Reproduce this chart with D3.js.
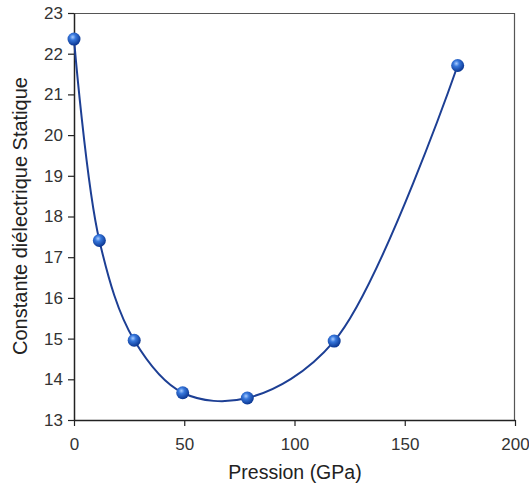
<!DOCTYPE html>
<html><head><meta charset="utf-8">
<script src="https://cdn.jsdelivr.net/npm/d3@7"></script>
<style>
html,body{margin:0;padding:0;background:#fff;}
svg{display:block;font-family:"Liberation Sans",Arial,sans-serif;}
</style></head>
<body><svg id="c" width="529" height="488"></svg>
<script>
const pressure = [0, 11.5, 27.3, 49.3, 78.6, 118.0, 174.0];
const epsilon = [22.36, 17.41, 14.96, 13.67, 13.54, 14.94, 21.71];
const xTicks = [0, 50, 100, 150, 200];
const yTicks = [13, 14, 15, 16, 17, 18, 19, 20, 21, 22, 23];
const xTitle = "Pression (GPa)";
const yTitle = "Constante diélectrique Statique";

const svg = d3.select("#c");
const L = 74, R = 515, T = 13, B = 420;
const x = d3.scaleLinear().domain([0, 200]).range([L, R]);
const y = d3.scaleLinear().domain([13, 23]).range([B, T]);

const defs = svg.append("defs");
const g = defs.append("radialGradient").attr("id", "ball").attr("cx", "40%").attr("cy", "35%").attr("r", "65%");
g.append("stop").attr("offset", "0%").attr("stop-color", "#a8ccff");
g.append("stop").attr("offset", "35%").attr("stop-color", "#3777dc");
g.append("stop").attr("offset", "100%").attr("stop-color", "#0a3590");

// frame
svg.append("line").attr("x1", L).attr("x2", R).attr("y1", T + 0.5).attr("y2", T + 0.5).attr("stroke", "#555").attr("stroke-width", 1.2);
svg.append("line").attr("x1", R - 0.5).attr("x2", R - 0.5).attr("y1", T).attr("y2", B).attr("stroke", "#555").attr("stroke-width", 1.2);

const xAxis = svg.append("g").attr("transform", `translate(0,${B})`)
  .call(d3.axisBottom(x).tickValues(xTicks).tickSize(6).tickPadding(12).tickSizeOuter(0));
const yAxis = svg.append("g").attr("transform", `translate(${L},0)`)
  .call(d3.axisLeft(y).tickValues(yTicks).tickSize(6).tickPadding(5).tickSizeOuter(0));
[xAxis, yAxis].forEach(a => {
  a.select(".domain").attr("stroke", "#222").attr("stroke-width", 1.5);
  a.selectAll(".tick line").attr("stroke", "#222").attr("stroke-width", 1.2);
  a.selectAll(".tick text").attr("fill", "#333").style("font-size", "17px").style("font-family", "Liberation Sans, Arial, sans-serif");
});

const data = pressure.map((p, i) => [p, epsilon[i]]);
const line = d3.line().x(d => x(d[0])).y(d => y(d[1])).curve(d3.curveCatmullRom.alpha(0.5));
svg.append("path").attr("d", line(data)).attr("fill", "none").attr("stroke", "#1d3f94").attr("stroke-width", 2);

svg.selectAll("circle.pt").data(data).enter().append("circle").attr("class", "pt")
  .attr("cx", d => x(d[0])).attr("cy", d => y(d[1])).attr("r", 6.5).attr("fill", "url(#ball)");

svg.append("text").attr("x", 295).attr("y", 479).attr("text-anchor", "middle")
  .attr("fill", "#222").style("font-size", "19.5px").text(xTitle);
svg.append("text").attr("transform", `translate(27,216) rotate(-90)`).attr("text-anchor", "middle")
  .attr("fill", "#222").style("font-size", "20px").text(yTitle);
</script></body></html>
